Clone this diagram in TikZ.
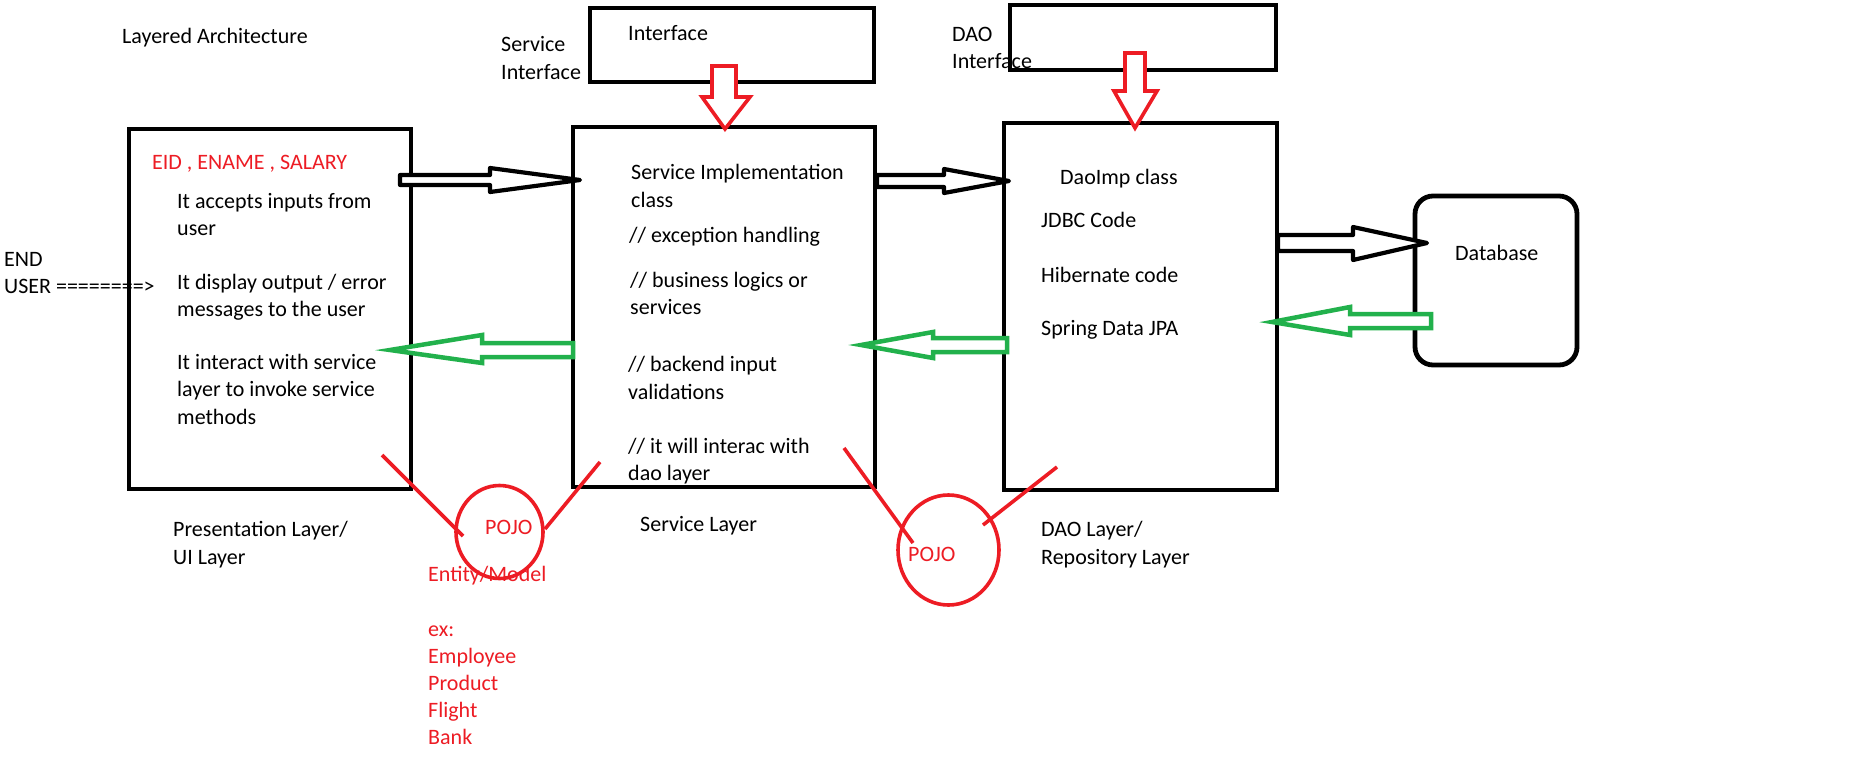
\documentclass[tikz,border=0pt]{standalone}
\usepackage{fontspec}
\setmainfont{Carlito}
\usetikzlibrary{shapes.geometric}
\definecolor{pred}{RGB}{237,28,36}
\definecolor{pgreen}{RGB}{34,177,76}
\tikzset{
  txt/.style={anchor=base west, inner sep=0pt, font=\fontsize{22}{27}\selectfont, text=black},
  rtxt/.style={txt, text=pred},
  box/.style={draw=black, line width=4.8pt, rectangle, inner sep=0pt},
  blackarrow/.style={draw=black, fill=white, line width=4.2pt, line join=round},
  greenarrow/.style={draw=pgreen, fill=white, line width=4.5pt, line join=miter},
  redarrow/.style={draw=pred, fill=white, line width=3.6pt, line join=miter},
  redline/.style={draw=pred, line width=3.6pt},
  pojo/.style={draw=pred, line width=3.6pt, ellipse, inner sep=0pt}
}
\begin{document}
\begin{tikzpicture}[x=1pt,y=-1pt]
\useasboundingbox[fill=white] (0,0) rectangle (1868,782);

% boxes
\node[box, minimum width=282pt, minimum height=360pt] (pres) at (270,309) {};
\node[box, minimum width=302pt, minimum height=360pt] (serv) at (724,307) {};
\node[box, minimum width=273pt, minimum height=367pt] (dao) at (1140.5,306.5) {};
\node[box, minimum width=284pt, minimum height=74pt] (sif) at (732,45) {};
\node[box, minimum width=266pt, minimum height=65pt] (dif) at (1143,37.5) {};
\node[box, minimum width=162pt, minimum height=169pt, rounded corners=18pt] (db) at (1496,280.5) {};

% titles / labels
\node[txt] (title) at (122,43) {Layered Architecture};
\node[txt] (sifl1) at (501,51) {Service};
\node[txt] (sifl2) at (501,79) {Interface};
\node[txt] (sift) at (628,40) {Interface};
\node[txt] (difl1) at (952,41) {DAO};
\node[txt] (difl2) at (952,68) {Interface};
\node[txt] (end1) at (4,266) {END};
\node[txt] (end2) at (4,293) {USER ========>};

% presentation box text
\node[rtxt] (p0) at (152,169) {EID , ENAME , SALARY};
\node[txt] (p1) at (177,208) {It accepts inputs from};
\node[txt] (p2) at (177,235) {user};
\node[txt] (p3) at (177,289) {It display output / error};
\node[txt] (p4) at (177,316) {messages to the user};
\node[txt] (p5) at (177,369) {It interact with service};
\node[txt] (p6) at (177,396) {layer to invoke service};
\node[txt] (p7) at (177,424) {methods};

% service box text
\node[txt] (s1) at (631,179) {Service Implementation};
\node[txt] (s2) at (631,207) {class};
\node[txt] (s3) at (629,242) {// exception handling};
\node[txt] (s4) at (630,287) {// business logics or};
\node[txt] (s5) at (630,314) {services};
\node[txt] (s6) at (628,371) {// backend input};
\node[txt] (s7) at (628,399) {validations};
\node[txt] (s8) at (628,453) {// it will interac with};
\node[txt] (s9) at (628,480) {dao layer};

% dao box text
\node[txt] (d1) at (1060,184) {DaoImp class};
\node[txt] (d2) at (1041,227) {JDBC Code};
\node[txt] (d3) at (1041,282) {Hibernate code};
\node[txt] (d4) at (1041,335) {Spring Data JPA};

\node[txt] (dbt) at (1455,260) {Database};

% layer captions
\node[txt] (c1) at (173,536) {Presentation Layer/};
\node[txt] (c2) at (173,564) {UI Layer};
\node[txt] (c3) at (640,531) {Service Layer};
\node[txt] (c4) at (1041,536) {DAO Layer/};
\node[txt] (c5) at (1041,564) {Repository Layer};

% red arrows (interface -> implementation)
\draw[redarrow] (712,66) -- (736,66) -- (736,97) -- (750,97) -- (725,129) -- (702,97) -- (712,97) -- cycle;
\draw[redarrow] (1125,53) -- (1145,53) -- (1145,91) -- (1157,91) -- (1135,128) -- (1114,91) -- (1125,91) -- cycle;

% black arrows
\draw[blackarrow] (400,175) -- (490,175) -- (490,168) -- (580,180) -- (490,192) -- (490,185) -- (400,185) -- cycle;
\draw[blackarrow] (877,175) -- (944,175) -- (944,169) -- (1009,181) -- (944,193) -- (944,187) -- (877,187) -- cycle;
\draw[blackarrow] (1278,235) -- (1353,235) -- (1353,227) -- (1427,243) -- (1353,260) -- (1353,251) -- (1278,251) -- cycle;

% green arrows
\draw[greenarrow] (573,343) -- (482,343) -- (482,335) -- (390,350) -- (482,363) -- (482,357) -- (573,357) -- cycle;
\draw[greenarrow] (1007,338) -- (933,338) -- (933,332) -- (861,345) -- (933,358) -- (933,352) -- (1007,352) -- cycle;
\draw[greenarrow] (1431,314) -- (1350,314) -- (1350,307) -- (1272,322) -- (1350,335) -- (1350,328) -- (1431,328) -- cycle;

% POJO circles and marks
\node[pojo, minimum width=87pt, minimum height=93pt] (pojo1) at (499.5,532) {};
\node[pojo, minimum width=101pt, minimum height=110pt] (pojo2) at (948.5,550) {};
\node[rtxt] (pj1) at (485,534) {POJO};
\node[rtxt] (pj2) at (908,561) {POJO};
\coordinate (m1a) at (382,455); \coordinate (m1b) at (463,536);
\coordinate (m2a) at (600,462); \coordinate (m2b) at (545,529);
\coordinate (m3a) at (844,448); \coordinate (m3b) at (913,543);
\coordinate (m4a) at (1057,467); \coordinate (m4b) at (983,525);
\draw[redline] (m1a) -- (m1b);
\draw[redline] (m2a) -- (m2b);
\draw[redline] (m3a) -- (m3b);
\draw[redline] (m4a) -- (m4b);

% entity text
\node[rtxt] (e1) at (428,581) {Entity/Model};
\node[rtxt] (e2) at (428,636) {ex:};
\node[rtxt] (e3) at (428,663) {Employee};
\node[rtxt] (e4) at (428,690) {Product};
\node[rtxt] (e5) at (428,717) {Flight};
\node[rtxt] (e6) at (428,744) {Bank};
\end{tikzpicture}
\end{document}
